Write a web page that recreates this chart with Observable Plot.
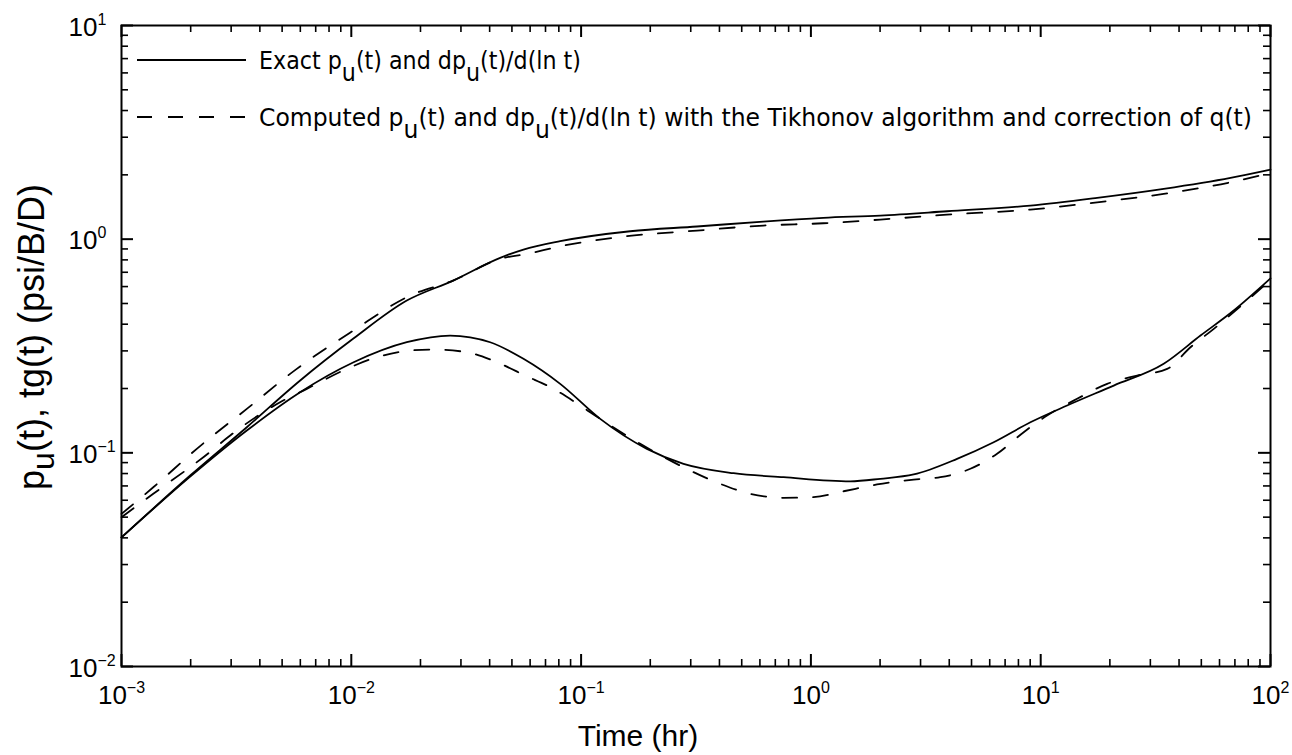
<!DOCTYPE html>
<html>
<head>
<meta charset="utf-8">
<script src="https://cdn.jsdelivr.net/npm/d3@7"></script>
<script src="https://cdn.jsdelivr.net/npm/@observablehq/plot@0.6"></script>
<style>
  html, body { margin: 0; padding: 0; background: #fff; }
  #chart { width: 1292px; height: 755px; }
</style>
</head>
<body>
<div id="chart"></div>
<script>
// ---- Data ----
// Exact p_u(t)
const exactPressureT = [0.001, 0.00199, 0.00351, 0.00599, 0.01018, 0.01744, 0.02774, 0.04444, 0.05612, 0.0811, 0.1636, 0.3193, 0.6206, 1.132, 2.005, 3.913, 9.02, 17.6, 34.3, 66.97, 100];
const exactPressureV = [0.0402, 0.0783, 0.1318, 0.218, 0.3416, 0.516, 0.640, 0.818, 0.894, 0.978, 1.089, 1.146, 1.209, 1.258, 1.290, 1.351, 1.436, 1.561, 1.720, 1.936, 2.117];

// Exact dp_u(t)/d(ln t)
const exactDerivT = [0.001, 0.00199, 0.00351, 0.00599, 0.01018, 0.01744, 0.02692, 0.04021, 0.05612, 0.0811, 0.1211, 0.1934, 0.2791, 0.4608, 0.7606, 1.484, 2.005, 2.801, 4.325, 6.243, 9.02, 13.03, 20.79, 34.3, 49.58, 69.2, 100];
const exactDerivV = [0.0402, 0.0774, 0.1272, 0.1921, 0.2646, 0.3293, 0.3539, 0.3293, 0.2754, 0.2103, 0.1442, 0.1044, 0.0888, 0.0803, 0.0769, 0.0736, 0.0756, 0.0792, 0.0937, 0.1121, 0.1390, 0.1665, 0.2064, 0.2610, 0.3539, 0.4635, 0.655];

// Computed p_u(t) (Tikhonov + correction of q(t))
const compPressureT = [0.001, 0.001375, 0.002126, 0.00351, 0.00579, 0.01021, 0.01803, 0.02774, 0.04444, 0.05807, 0.0811, 0.1526, 0.3193, 0.6206, 1.132, 2.005, 3.913, 9.02, 17.6, 34.3, 66.97, 100];
const compPressureV = [0.0518, 0.0690, 0.1044, 0.1606, 0.2472, 0.3735, 0.5446, 0.640, 0.809, 0.853, 0.926, 1.028, 1.097, 1.158, 1.187, 1.235, 1.303, 1.375, 1.488, 1.629, 1.846, 2.042];

// Computed dp_u(t)/d(ln t)
const compDerivT = [0.001, 0.001375, 0.002271, 0.003173, 0.004898, 0.006402, 0.009559, 0.01291, 0.01803, 0.02277, 0.03183, 0.04299, 0.05708, 0.07582, 0.0991, 0.1211, 0.1809, 0.2985, 0.4033, 0.5447, 0.7606, 1.027, 1.388, 1.94, 2.801, 3.66, 4.943, 6.459, 8.433, 10.66, 14.4, 19.46, 26.29, 35.51, 44.84, 56.66, 79.17, 100];
const compDerivV = [0.0500, 0.0643, 0.0954, 0.1272, 0.1725, 0.1993, 0.2472, 0.2802, 0.3011, 0.3044, 0.2957, 0.2655, 0.2300, 0.1993, 0.1665, 0.1442, 0.1102, 0.0826, 0.0716, 0.0643, 0.0616, 0.0620, 0.0661, 0.0711, 0.0750, 0.0769, 0.0842, 0.0989, 0.1249, 0.1494, 0.1790, 0.2103, 0.2300, 0.2472, 0.3120, 0.3805, 0.516, 0.645];

// Tick values
const xMajorTicks = [1e-3, 1e-2, 1e-1, 1e0, 1e1, 1e2];
const yMajorTicks = [1e-2, 1e-1, 1e0, 1e1];
const minorMultipliers = [2, 3, 4, 5, 6, 7, 8, 9];

// Texts
const xTitle = "Time (hr)";
const legendExact = ["Exact p", "u", "(t) and dp", "u", "(t)/d(ln t)"];
const legendComputed = ["Computed p", "u", "(t) and dp", "u", "(t)/d(ln t) with the Tikhonov algorithm and correction of q(t)"];
const yTitle = ["p", "u", "(t), tg(t) (psi/B/D)"];

// ---- Build ----
const W = 1292, H = 755;
const mL = 121, mR = 22, mT = 25, mB = 89;
const innerW = W - mL - mR, innerH = H - mT - mB;

const rows = (ts, vs) => ts.map((t, i) => ({t, v: vs[i]}));
const exactP = rows(exactPressureT, exactPressureV);
const exactD = rows(exactDerivT, exactDerivV);
const compP = rows(compPressureT, compPressureV);
const compD = rows(compDerivT, compDerivV);

const minorOf = (majors) => {
  const out = [];
  for (let i = 0; i < majors.length - 1; i++) for (const m of minorMultipliers) out.push(m * majors[i]);
  return out;
};
const xMinorTicks = minorOf(xMajorTicks);
const yMinorTicks = minorOf(yMajorTicks);

const supFmt = d => "10^" + String(Math.round(Math.log10(d))).replace("-", "\u2212");

const lineOpts = {x: "t", y: "v", stroke: "#000", strokeWidth: 1.8, curve: "monotone-x"};
const dashOpts = {...lineOpts, strokeDasharray: "15,16"};
const tickFont = "Liberation Sans, Arial, sans-serif";

const plot = Plot.plot({
  width: W, height: H,
  marginLeft: mL, marginRight: mR, marginTop: mT, marginBottom: mB,
  x: {type: "log", domain: [1e-3, 1e2], axis: null},
  y: {type: "log", domain: [1e-2, 1e1], axis: null},
  style: {fontFamily: tickFont, fontSize: "26px", background: "#fff", color: "#000", overflow: "visible"},
  marks: [
    Plot.line(exactP, lineOpts),
    Plot.line(exactD, lineOpts),
    Plot.line(compP, dashOpts),
    Plot.line(compD, dashOpts),
    // inward ticks: bottom / top
    Plot.tickX(xMajorTicks, {insetTop: innerH - 12, stroke: "#000", strokeWidth: 2}),
    Plot.tickX(xMinorTicks, {insetTop: innerH - 7, stroke: "#000", strokeWidth: 1.6}),
    Plot.tickX(xMajorTicks, {insetBottom: innerH - 12, stroke: "#000", strokeWidth: 2}),
    Plot.tickX(xMinorTicks, {insetBottom: innerH - 7, stroke: "#000", strokeWidth: 1.6}),
    // inward ticks: left / right
    Plot.tickY(yMajorTicks, {insetRight: innerW - 12, stroke: "#000", strokeWidth: 2}),
    Plot.tickY(yMinorTicks, {insetRight: innerW - 7, stroke: "#000", strokeWidth: 1.6}),
    Plot.tickY(yMajorTicks, {insetLeft: innerW - 12, stroke: "#000", strokeWidth: 2}),
    Plot.tickY(yMinorTicks, {insetLeft: innerW - 7, stroke: "#000", strokeWidth: 1.6}),
    Plot.frame({stroke: "#000", strokeWidth: 2}),
    // tick labels
    Plot.text(xMajorTicks, {x: d => d, frameAnchor: "bottom", dy: 37, text: supFmt, fontSize: 26, textAnchor: "middle", fill: "#000"}),
    Plot.text(yMajorTicks, {y: d => d, frameAnchor: "left", dx: -53, dy: 2, text: supFmt, fontSize: 26, textAnchor: "start", fill: "#000"})
  ]
});

document.getElementById("chart").appendChild(plot);
const svg = d3.select(plot);

// superscripts for tick labels
svg.selectAll("text").each(function () {
  const s = this.textContent;
  if (!s.includes("^")) return;
  const [base, exp] = s.split("^");
  const t = d3.select(this);
  t.text(null);
  t.append("tspan").text(base);
  t.append("tspan").attr("font-size", 16).attr("dy", -11).text(exp);
});

// axis titles
svg.append("text")
  .attr("x", 638).attr("y", 746)
  .attr("text-anchor", "middle")
  .attr("font-family", tickFont).attr("font-size", 30).attr("fill", "#000")
  .text(xTitle);

const yt = svg.append("text")
  .attr("transform", `translate(44,337) rotate(-90)`)
  .attr("text-anchor", "middle")
  .attr("font-family", tickFont).attr("font-size", 36).attr("fill", "#000");
yt.append("tspan").text(yTitle[0]);
yt.append("tspan").attr("dy", 10).attr("font-size", 32).text(yTitle[1]);
yt.append("tspan").attr("dy", -10).text(yTitle[2]);

// legend
const legFont = "DejaVu Sans, Verdana, sans-serif";
const leg = svg.append("g");
function legendEntry(y, dash, parts, len) {
  leg.append("line").attr("x1", 137).attr("x2", 246).attr("y1", y).attr("y2", y)
    .attr("stroke", "#000").attr("stroke-width", 1.8).attr("stroke-dasharray", dash);
  const tx = leg.append("text").attr("x", 259).attr("y", y + 9)
    .attr("text-anchor", "start")
    .attr("textLength", len).attr("lengthAdjust", "spacingAndGlyphs")
    .attr("font-family", legFont).attr("font-size", 24).attr("fill", "#000");
  parts.forEach((p, i) => {
    const ts = tx.append("tspan").text(p);
    if (i > 0) ts.attr("dy", i % 2 === 1 ? 12 : -12);
  });
}
legendEntry(60, null, legendExact, 322);
legendEntry(117, "15,16", legendComputed, 993);
</script>
</body>
</html>
